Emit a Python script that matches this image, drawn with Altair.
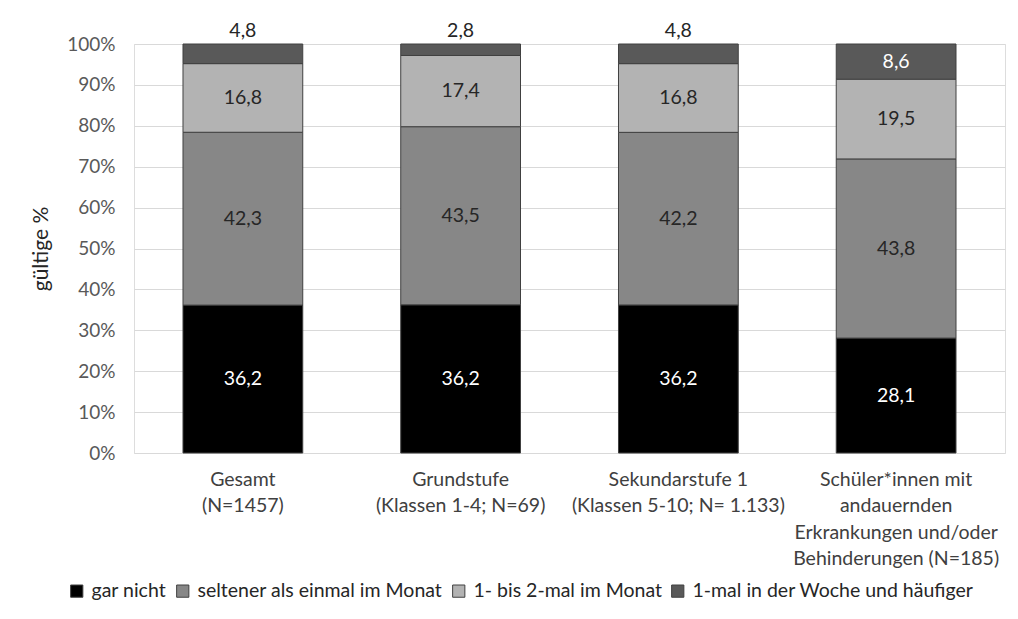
import altair as alt
import pandas as pd

categories = [
    "Gesamt|(N=1457)",
    "Grundstufe|(Klassen 1-4; N=69)",
    "Sekundarstufe 1|(Klassen 5-10; N= 1.133)",
    "Schüler*innen mit|andauernden|Erkrankungen und/oder|Behinderungen (N=185)",
]
series = [
    "gar nicht",
    "seltener als einmal im Monat",
    "1- bis 2-mal im Monat",
    "1-mal in der Woche und häufiger",
]
gar_nicht = [36.2, 36.2, 36.2, 28.1]
seltener = [42.3, 43.5, 42.2, 43.8]
ein_bis_zwei = [16.8, 17.4, 16.8, 19.5]
woechentlich = [4.8, 2.8, 4.8, 8.6]
colors = ["#000000", "#878787", "#b3b3b3", "#595959"]

rows = []
for s_i, (name, vals) in enumerate(zip(series, [gar_nicht, seltener, ein_bis_zwei, woechentlich])):
    for c, v in zip(categories, vals):
        rows.append({"cat": c, "series": name, "value": v, "order": s_i})
df = pd.DataFrame(rows)

FONT = "Lato"
FS = 19.5

base = (
    alt.Chart(df)
    .transform_stack(
        stack="value",
        groupby=["cat"],
        as_=["y0", "y1"],
        offset="normalize",
        sort=[alt.SortField("order", order="ascending")],
    )
    .transform_calculate(
        mid="(datum.y0 + datum.y1) / 2",
        lab="replace(format(datum.value, '.1f'), '.', ',')",
    )
)

xenc = alt.X(
    "cat:N",
    sort=categories,
    scale=alt.Scale(paddingInner=0.45, paddingOuter=0.225),
    axis=alt.Axis(
        title=None,
        labelAngle=0,
        labelExpr="split(datum.label, '|')",
        labelFontSize=FS,
        labelFont=FONT,
        labelColor="#404040",
        labelLineHeight=26.5,
        labelPadding=17,
        labelBaseline="top",
        domain=False,
        ticks=False,
        labelLimit=400,
    ),
)

yenc = alt.Y(
    "y0:Q",
    scale=alt.Scale(domain=[0, 1]),
    axis=alt.Axis(
        title="gültige %",
        titleFont=FONT,
        titleFontSize=21,
        titleFontWeight="normal",
        titleColor="#262626",
        titleX=-83,
        titleAnchor="middle",
        format=".0%",
        values=[i / 10 for i in range(11)],
        labelFont=FONT,
        labelFontSize=19,
        labelColor="#595959",
        labelPadding=19,
        domain=False,
        ticks=False,
        grid=True,
        gridColor="#d9d9d9",
        gridWidth=1.2,
    ),
)

bars = base.mark_bar(stroke="#404040", strokeWidth=1).encode(
    x=xenc,
    y=yenc,
    y2="y1:Q",
    color=alt.Color(
        "series:N",
        scale=alt.Scale(domain=series, range=colors),
        sort=series,
        legend=alt.Legend(
            title=None,
            orient="none",
            direction="horizontal",
            legendX=-67,
            legendY=537,
            symbolType="square",
            symbolSize=150,
            symbolStrokeColor="#404040",
            symbolStrokeWidth=1,
            labelFont=FONT,
            labelFontSize=FS,
            labelColor="#262626",
            columnPadding=6,
            labelOffset=5,
            labelLimit=400,
        ),
    ),
    order=alt.Order("order:Q"),
)

inside = (
    base.transform_filter("datum.value >= 5")
    .mark_text(font=FONT, fontSize=FS, baseline="middle")
    .encode(
        x=alt.X("cat:N", sort=categories),
        y=alt.Y("mid:Q"),
        text="lab:N",
        color=alt.condition(
            "datum.series == 'gar nicht' || datum.series == '1-mal in der Woche und häufiger'",
            alt.value("#ffffff"),
            alt.value("#262626"),
        ),
    )
)

above = (
    base.transform_filter("datum.value < 5")
    .mark_text(font=FONT, fontSize=FS, baseline="middle", dy=-13, color="#262626")
    .encode(
        x=alt.X("cat:N", sort=categories),
        y=alt.Y("y1:Q"),
        text="lab:N",
    )
)

chart = (
    alt.layer(bars, inside, above)
    .properties(
        width=871,
        height=409,
        autosize=alt.AutoSizeParams(type="none"),
        padding={"left": 126, "top": 36, "right": 5, "bottom": 150},
    )
    .configure_view(stroke=None)
    .configure(background="#ffffff")
)

chart.save("out.html", embed_options={"renderer": "svg", "actions": False})
